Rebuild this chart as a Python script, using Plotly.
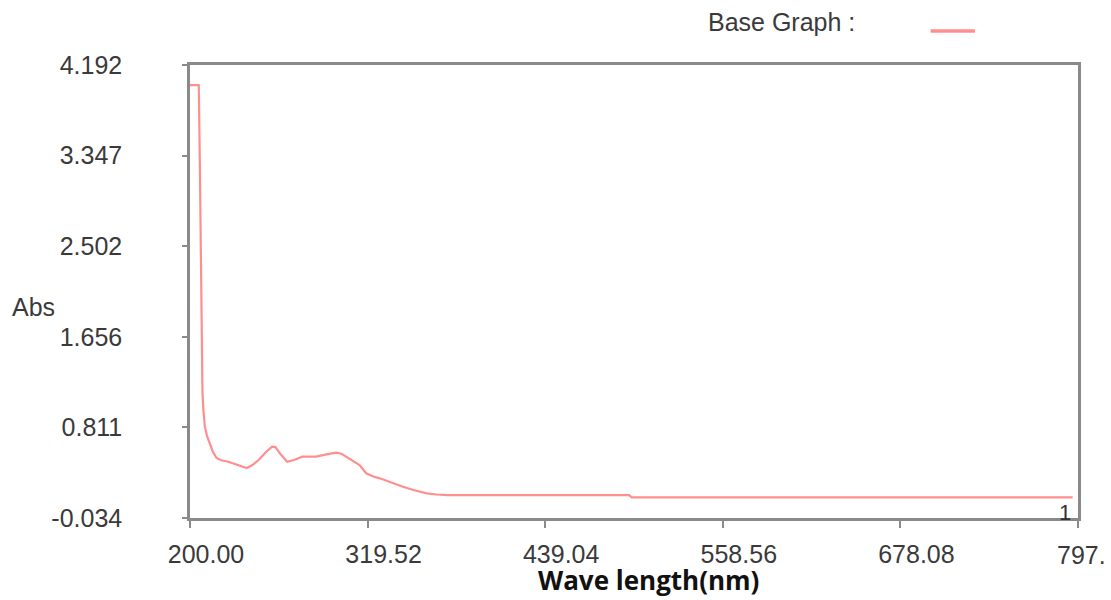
import plotly.graph_objects as go

# Spectrum values
wavelength_nm = [200.0, 205.9, 206.6, 207.3, 208.1, 208.4, 209.0, 210.0, 211.5, 213.4,
                 215.5, 217.9, 221.0, 225.8, 232.0, 238.2, 242.0, 246.2, 251.0, 255.2,
                 257.5, 261.0, 265.4, 270.0, 275.6, 284.7, 292.0, 298.3, 302.0, 305.1,
                 310.0, 314.1, 318.6, 323.0, 327.7, 335.0, 343.3, 350.3, 359.4, 366.0,
                 373.0, 495.4, 497.4, 794.0]
absorbance = [4.005, 4.005, 3.306, 2.373, 1.440, 1.132, 0.973, 0.818, 0.730, 0.666,
              0.580, 0.526, 0.505, 0.491, 0.465, 0.432, 0.460, 0.507, 0.580, 0.631,
              0.628, 0.560, 0.491, 0.507, 0.538, 0.538, 0.560, 0.575, 0.565, 0.538,
              0.500, 0.460, 0.383, 0.355, 0.336, 0.298, 0.258, 0.227, 0.196, 0.185,
              0.180, 0.180, 0.159, 0.159]

x_tick_vals = [200.0, 319.52, 439.04, 558.56, 678.08, 797.6]
x_tick_text = ["200.00", "319.52", "439.04", "558.56", "678.08", "797."]
y_tick_vals = [-0.034, 0.811, 1.656, 2.502, 3.347, 4.192]
y_tick_text = ["-0.034", "0.811", "1.656", "2.502", "3.347", "4.192"]
series_name = "Base Graph :"

line_color = "#ff8f8f"
axis_color = "#8a8a8a"
tick_font = dict(family="Liberation Sans, Arial, sans-serif", size=25, color="#3a3a3a")

fig = go.Figure()
fig.add_trace(go.Scatter(
    x=wavelength_nm, y=absorbance, mode="lines", name=series_name,
    line=dict(color=line_color, width=2.2), showlegend=False,
))

# legend key (text + short line sample) above the plot, as in the reference
fig.add_shape(type="line", xref="paper", yref="paper",
              x0=0.834, x1=0.884, y0=1.075, y1=1.075,
              line=dict(color=line_color, width=3.5))

# the last x tick label sits at the page edge: draw it as an annotation at its tick
shown_x_text = x_tick_text[:-1] + [""]

annotations = [
    dict(text=series_name, xref="paper", yref="paper", x=0.581, y=1.095,
         xanchor="left", yanchor="middle", showarrow=False, font=tick_font),
    dict(text="Abs", xref="paper", yref="paper", x=-0.203, y=0.466,
         xanchor="left", yanchor="middle", showarrow=False, font=tick_font),
    dict(text="<b>Wave length(nm)</b>", xref="paper", yref="paper", x=0.516, y=-0.137,
         xanchor="center", yanchor="middle", showarrow=False,
         font=dict(family="Open Sans, sans-serif", size=26, color="#111111")),
    dict(text="1", xref="x", yref="y", x=wavelength_nm[-1], y=absorbance[-1],
         xanchor="right", yanchor="top", yshift=-1, showarrow=False,
         font=dict(family="Liberation Sans, Arial, sans-serif", size=22, color="#333333")),
    dict(text=x_tick_text[-1], xref="x", yref="paper", x=x_tick_vals[-1], y=0,
         xanchor="center", yanchor="middle", xshift=3, yshift=-37, showarrow=False,
         font=tick_font),
]

fig.update_layout(
    width=1111, height=600,
    margin=dict(l=190, r=33, t=65, b=82),
    paper_bgcolor="white", plot_bgcolor="white",
    showlegend=False,
    xaxis=dict(
        range=[200.0, 797.6], tickmode="array", tickvals=x_tick_vals, ticktext=shown_x_text,
        showgrid=False, zeroline=False, showline=True, mirror=True,
        linecolor=axis_color, linewidth=2.5,
        ticks="outside", ticklen=7, tickwidth=1.5, tickcolor=axis_color,
        tickfont=tick_font, ticklabelstandoff=5, ticklabelshift=16,
        automargin=False,
    ),
    yaxis=dict(
        range=[-0.034, 4.192], tickmode="array", tickvals=y_tick_vals, ticktext=y_tick_text,
        showgrid=False, zeroline=False, showline=True, mirror=True,
        linecolor=axis_color, linewidth=2.5,
        ticks="outside", ticklen=5, tickwidth=1.5, tickcolor=axis_color,
        tickfont=tick_font, ticklabelstandoff=55,
        automargin=False,
    ),
    annotations=annotations,
)

fig.write_html("out.html")
